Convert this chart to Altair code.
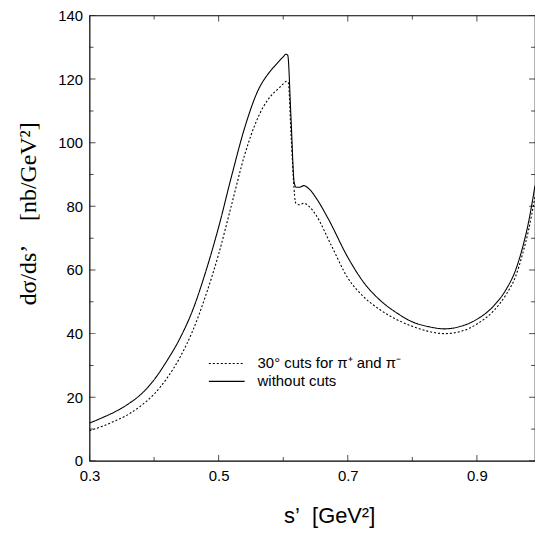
import altair as alt
import pandas as pd

# ---- data ----
s_nocut = [0.30, 0.32, 0.34, 0.36, 0.38, 0.40, 0.42, 0.44, 0.46, 0.48, 0.50,
           0.52, 0.54, 0.56, 0.58, 0.59, 0.60, 0.604, 0.607, 0.612, 0.617,
           0.62, 0.625, 0.632, 0.64, 0.653, 0.67, 0.70, 0.725, 0.75, 0.776,
           0.80, 0.825, 0.85, 0.875, 0.90, 0.925, 0.945, 0.96, 0.97, 0.98, 0.99]
v_nocut = [11.9, 13.6, 15.5, 17.9, 21.0, 25.5, 31.5, 38.5, 47.5, 59.5, 73.5,
           89.5, 104.5, 116.0, 122.5, 124.8, 127.0, 127.8, 127.5, 108.0, 87.5,
           86.0, 86.0, 86.5, 85.5, 82.0, 76.0, 64.0, 56.0, 50.5, 46.5,
           43.7, 42.2, 41.5, 42.3, 44.5, 48.5, 53.8, 60.0, 66.5, 75.0, 86.5]

s_cut = [0.30, 0.32, 0.34, 0.36, 0.38, 0.40, 0.42, 0.44, 0.46, 0.48, 0.50,
         0.52, 0.54, 0.56, 0.58, 0.59, 0.60, 0.605, 0.608, 0.612, 0.6195,
         0.625, 0.632, 0.64, 0.65, 0.675, 0.70, 0.725, 0.75, 0.775,
         0.80, 0.825, 0.85, 0.875, 0.90, 0.925, 0.945, 0.96, 0.97, 0.98, 0.99]
v_cut = [9.5, 10.9, 12.6, 14.6, 17.4, 21.0, 26.0, 32.5, 41.0, 52.0, 65.0,
         80.5, 96.0, 107.5, 114.5, 116.5, 118.5, 119.3, 118.8, 103.0, 81.0,
         80.5, 81.0, 80.0, 77.5, 67.5, 57.5, 51.5, 47.5, 44.5,
         42.3, 40.7, 40.0, 40.7, 43.0, 47.0, 52.2, 58.0, 64.5, 72.5, 83.0]

series_names = ["30° cuts for π⁺ and π⁻", "without cuts"]

x_labels = [0.3, 0.5, 0.7, 0.9]
x_minor = [0.4, 0.6, 0.8]
y_labels = [0, 20, 40, 60, 80, 100, 120, 140]
y_minor = [10, 30, 50, 70, 90, 110, 130]

NB = "\u00a0"
x_title = "s’" + NB + NB + "[GeV²]"
y_title = "dσ/ds’" + NB * 4 + "[nb/GeV²]"

W, H = 448, 448

df = pd.concat([
    pd.DataFrame({"s": s_cut, "v": v_cut, "series": series_names[0]}),
    pd.DataFrame({"s": s_nocut, "v": v_nocut, "series": series_names[1]}),
])

xs = alt.Scale(domain=[0.3, 0.99], nice=False, zero=False)
ys = alt.Scale(domain=[0, 140], nice=False)

x_axis = alt.Axis(
    values=x_labels, format=".1f", ticks=False, domain=False, grid=False,
    labelFlush=False, labelOverlap=False,
    labelFont="Liberation Sans", labelFontSize=15, labelColor="black",
    labelPadding=8, title=x_title, titleFont="Liberation Sans",
    titleFontSize=22, titleFontWeight="normal", titleColor="black",
    titleX=241, titleY=62, titleBaseline="alphabetic", titleAlign="center")
y_axis = alt.Axis(
    values=y_labels, ticks=False, domain=False, grid=False,
    labelFlush=False, labelOverlap=False,
    labelFont="Liberation Sans", labelFontSize=15, labelColor="black",
    labelPadding=7, title=y_title, titleFont="Liberation Serif",
    titleFontSize=24, titleFontWeight="normal", titleColor="black",
    titleX=-61, titleY=199, titleBaseline="middle", titleAlign="center",
    titleAngle=270)

lines = alt.Chart(df).mark_line(color="black", strokeWidth=1.1, clip=True,
                                interpolate="monotone").encode(
    x=alt.X("s:Q", scale=xs, axis=x_axis),
    y=alt.Y("v:Q", scale=ys, axis=y_axis),
    strokeDash=alt.StrokeDash("series:N", scale=alt.Scale(
        domain=series_names, range=[[2, 2], [1, 0]]),
        legend=alt.Legend(title=None, orient="none", legendX=119, legendY=341,
                          symbolType="stroke", symbolSize=1296,
                          symbolStrokeColor="black", symbolStrokeWidth=1.1,
                          labelFont="Liberation Sans", labelFontSize=15,
                          labelColor="black", labelOffset=12, rowPadding=0,
                          clipHeight=18, padding=0)),
)


def ticks(vals, axis, pos, size):
    d = pd.DataFrame({"t": vals})
    if axis == "x":
        return alt.Chart(d).mark_tick(orient="vertical", size=size, thickness=1,
                                      color="black", clip=True).encode(
            x=alt.X("t:Q", scale=xs, axis=x_axis), y=alt.value(pos))
    return alt.Chart(d).mark_tick(orient="horizontal", size=size, thickness=1,
                                  color="black", clip=True).encode(
        y=alt.Y("t:Q", scale=ys, axis=y_axis), x=alt.value(pos))


tick_layers = [
    ticks(x_labels, "x", 0, 12), ticks(x_labels, "x", H, 12),
    ticks(x_minor, "x", 0, 8), ticks(x_minor, "x", H, 8),
    ticks(y_labels, "y", 0, 12), ticks(y_labels, "y", W, 12),
    ticks(y_minor, "y", 0, 8), ticks(y_minor, "y", W, 8),
]

chart = alt.layer(lines, *tick_layers).properties(
    width=W, height=H,
    autosize=alt.AutoSizeParams(type="none"),
    padding={"left": 82, "top": 6, "right": 0, "bottom": 66},
).configure_view(stroke="black", strokeWidth=1.2)

chart.save("out.html", embed_options={"renderer": "svg", "actions": False})
